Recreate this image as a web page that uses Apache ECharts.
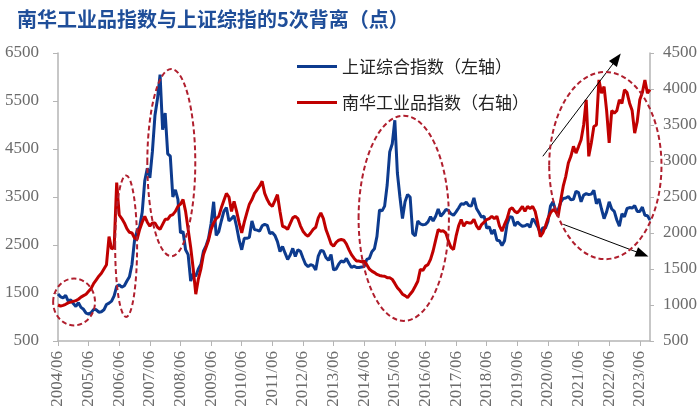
<!DOCTYPE html>
<html>
<head>
<meta charset="utf-8">
<script src="https://cdn.jsdelivr.net/npm/echarts/dist/echarts.min.js"></script>
<style>
  html, body { margin: 0; padding: 0; background: #fff; }
  #main { width: 700px; height: 417px; }
</style>
</head>
<body>
<div id="main"></div>
<script>
// 月度数据：2004/06 - 2023/10
var months = [];
for (var y = 2004; y <= 2023; y++) {
  for (var mo = 1; mo <= 12; mo++) {
    if (y === 2004 && mo < 6) continue;
    if (y === 2023 && mo > 10) continue;
    months.push(y + "/" + (mo < 10 ? "0" + mo : mo));
  }
}

// 上证综合指数（左轴）
var shIndex = [
  1480, 1420, 1400, 1450, 1330, 1360, 1280,                        // 2004
  1220, 1300, 1200, 1160, 1080, 1060, 1090, 1160, 1150, 1100, 1110, 1150, // 2005
  1260, 1290, 1330, 1440, 1640, 1670, 1620, 1650, 1750, 1840, 2100, 2600, // 2006
  2800, 2880, 3180, 3840, 4100, 3900, 4450, 5200, 5550, 6050, 4900, 5250, // 2007
  4400, 4350, 3500, 3650, 3450, 2750, 2780, 2400, 2300, 1750, 1900, 1850, // 2008
  2000, 2100, 2370, 2480, 2640, 2950, 3400, 2700, 2780, 3000, 3200, 3280, // 2009
  3000, 3050, 3110, 2880, 2600, 2400, 2640, 2640, 2660, 3000, 2820, 2810, // 2010
  2790, 2900, 2930, 2910, 2740, 2760, 2700, 2570, 2360, 2470, 2330, 2200, // 2011
  2290, 2430, 2260, 2400, 2370, 2230, 2100, 2050, 2090, 2070, 1980, 2270, // 2012
  2390, 2370, 2240, 2180, 2300, 1980, 2000, 2100, 2170, 2140, 2220, 2120, // 2013
  2030, 2060, 2030, 2030, 2040, 2050, 2200, 2220, 2360, 2420, 2680, 3230, // 2014
  3210, 3310, 3750, 4440, 4610, 5100, 4000, 3500, 3050, 3400, 3550, 3500, // 2015
  2740, 2690, 3000, 2940, 2920, 2930, 2980, 3090, 3000, 3100, 3250, 3100, // 2016
  3160, 3240, 3220, 3150, 3120, 3190, 3270, 3360, 3350, 3390, 3320, 3310, // 2017
  3480, 3260, 3170, 3080, 3100, 2850, 2880, 2730, 2820, 2600, 2590, 2490, // 2018
  2590, 2940, 3090, 3080, 2900, 2980, 2930, 2890, 2900, 2930, 2870, 3050, // 2019
  2980, 2880, 2750, 2860, 2850, 2990, 3310, 3400, 3220, 3230, 3390, 3470, // 2020
  3480, 3510, 3440, 3450, 3620, 3590, 3400, 3540, 3570, 3550, 3560, 3640, // 2021
  3360, 3460, 3250, 3050, 3190, 3400, 3250, 3200, 3020, 2890, 3150, 3090, // 2022
  3260, 3280, 3270, 3320, 3200, 3200, 3290, 3120, 3110, 3020              // 2023
];

// 南华工业品指数（右轴）
var nhIndex = [
  1000, 985, 995, 1010, 1030, 1040, 1050,                          // 2004
  1060, 1080, 1110, 1130, 1150, 1190, 1230, 1300, 1350, 1400, 1440, 1500, // 2005
  1560, 1950, 1780, 1800, 2700, 2250, 2200, 2140, 2060, 2010, 2000, 1930, // 2006
  1910, 2050, 2150, 2230, 2150, 2095, 2140, 2140, 2080, 2050, 2120, 2190, // 2007
  2190, 2240, 2256, 2300, 2370, 2400, 2465, 2300, 2050, 1800, 1500, 1150, // 2008
  1360, 1500, 1700, 1800, 1900, 2050, 2140, 2200, 2230, 2350, 2450, 2550, // 2009
  2500, 2300, 2440, 2300, 2140, 2003, 2150, 2280, 2400, 2464, 2550, 2600, // 2010
  2650, 2718, 2550, 2464, 2400, 2370, 2450, 2533, 2300, 2094, 2080, 2050, // 2011
  2130, 2210, 2233, 2200, 2100, 2025, 1980, 1956, 2000, 2050, 2080, 2210, // 2012
  2280, 2200, 2050, 1956, 1850, 1817, 1870, 1900, 1910, 1900, 1850, 1770, // 2013
  1700, 1650, 1610, 1610, 1600, 1610, 1560, 1500, 1471, 1450, 1425, 1410, // 2014
  1402, 1400, 1380, 1380, 1356, 1300, 1241, 1200, 1150, 1130, 1103, 1150, // 2015
  1195, 1260, 1330, 1495, 1480, 1540, 1560, 1633, 1750, 1900, 2048, 2025, // 2016
  2030, 2000, 1887, 1800, 1770, 1956, 2100, 2187, 2094, 2150, 2140, 2140, // 2017
  2190, 2100, 2050, 2117, 2150, 2187, 2200, 2233, 2200, 2233, 2100, 2025, // 2018
  2120, 2200, 2325, 2350, 2300, 2280, 2320, 2370, 2300, 2370, 2340, 2370, // 2019
  2300, 2140, 1950, 2000, 2094, 2200, 2280, 2325, 2300, 2233, 2450, 2650, // 2020
  2787, 2972, 3065, 3203, 3110, 3200, 3295, 3500, 3850, 3065, 3250, 3480, // 2021
  3500, 4126, 3942, 4034, 3700, 3250, 3700, 3665, 3700, 3850, 3800, 3988, // 2022
  3950, 3803, 3700, 3388, 3550, 3850, 3950, 4126, 3942, 3990              // 2023
];

// 背离标注：[中心月序号, 中心值(左轴), 半宽(月), 半高(左轴点数)]
var divergences = [
  [6.3, 1313, 8.2, 488],
  [26.7, 2475, 4.3, 1473],
  [44.4, 4217, 9.4, 1950],
  [135.5, 3056, 17.7, 2137],
  [214.5, 4155, 22, 1950]
];

// 箭头：[起点月序号, 起点值, 终点月序号, 终点值]（左轴）
var arrows = [
  [190.3, 4348, 219, 6380],
  [197.8, 2931, 228.5, 2310]
];

var axisFont = "Liberation Serif";
var cnFont = "Noto Sans CJK SC";
var plain = function (v) { return String(v); };

var myChart = echarts.init(document.getElementById("main"));
var option = {
  animation: false,
  title: {
    text: "南华工业品指数与上证综指的5次背离（点）",
    left: 12,
    top: 4,
    textStyle: {
      fontFamily: cnFont,
      fontSize: 20,
      fontWeight: "bold",
      color: "#1f4e99"
    }
  },
  legend: {
    orient: "vertical",
    left: 292,
    top: 53,
    icon: "rect",
    itemWidth: 40,
    itemHeight: 3,
    itemGap: 19,
    textStyle: { fontFamily: cnFont, fontSize: 17, color: "#222" }
  },
  grid: { left: 58, right: 48, top: 53, bottom: 76 },
  xAxis: {
    type: "category",
    data: months,
    boundaryGap: false,
    axisLine: { lineStyle: { color: "#b5b5b5", width: 1.5 } },
    axisTick: { interval: 11, length: 5, lineStyle: { color: "#b5b5b5" } },
    axisLabel: {
      interval: 11,
      rotate: 90,
      margin: 10,
      fontFamily: axisFont,
      fontSize: 17,
      color: "#6b6b6b"
    },
    splitLine: { show: false }
  },
  yAxis: [
    {
      type: "value",
      min: 500,
      max: 6500,
      interval: 1000,
      position: "left",
      axisLine: { show: true, lineStyle: { color: "#b5b5b5", width: 1.5 } },
      axisTick: { show: true, length: 5, lineStyle: { color: "#b5b5b5" } },
      axisLabel: { margin: 19, formatter: plain, fontFamily: axisFont, fontSize: 17, color: "#6b6b6b" },
      splitLine: { show: false }
    },
    {
      type: "value",
      min: 500,
      max: 4500,
      interval: 500,
      position: "right",
      axisLine: { show: true, lineStyle: { color: "#b5b5b5", width: 1.5 } },
      axisTick: { show: true, length: 4, lineStyle: { color: "#b5b5b5" } },
      axisLabel: { margin: 13, formatter: plain, fontFamily: axisFont, fontSize: 17, color: "#6b6b6b" },
      splitLine: { show: false }
    }
  ],
  series: [
    {
      name: "上证综合指数（左轴）",
      type: "line",
      yAxisIndex: 0,
      data: shIndex,
      symbol: "none",
      lineStyle: { color: "#0d3b8e", width: 3 },
      itemStyle: { color: "#0d3b8e" },
      markLine: {
        silent: true,
        symbol: ["none", "triangle"],
        symbolSize: [10, 13],
        label: { show: false },
        lineStyle: { color: "#000", width: 1, type: "solid" },
        data: arrows.map(function (a) {
          return [{ coord: [a[0], a[1]] }, { coord: [a[2], a[3]] }];
        })
      }
    },
    {
      name: "南华工业品指数（右轴）",
      type: "line",
      yAxisIndex: 1,
      data: nhIndex,
      symbol: "none",
      lineStyle: { color: "#c00000", width: 3 },
      itemStyle: { color: "#c00000" }
    }
  ]
};
myChart.setOption(option);

// 虚线椭圆，按数据坐标换算到像素
var p0 = myChart.convertToPixel({ xAxisIndex: 0, yAxisIndex: 0 }, [0, 500]);
var p1 = myChart.convertToPixel({ xAxisIndex: 0, yAxisIndex: 0 }, [100, 1500]);
var pxPerMonth = (p1[0] - p0[0]) / 100;
var pxPerPoint = (p0[1] - p1[1]) / 1000;
myChart.setOption({
  graphic: divergences.map(function (d) {
    return {
      type: "ellipse",
      silent: true,
      z: 10,
      shape: {
        cx: p0[0] + d[0] * pxPerMonth,
        cy: p0[1] - (d[1] - 500) * pxPerPoint,
        rx: d[2] * pxPerMonth,
        ry: d[3] * pxPerPoint
      },
      style: { fill: null, stroke: "#b01f2e", lineWidth: 2, lineDash: [5, 3] }
    };
  })
});
</script>
</body>
</html>
